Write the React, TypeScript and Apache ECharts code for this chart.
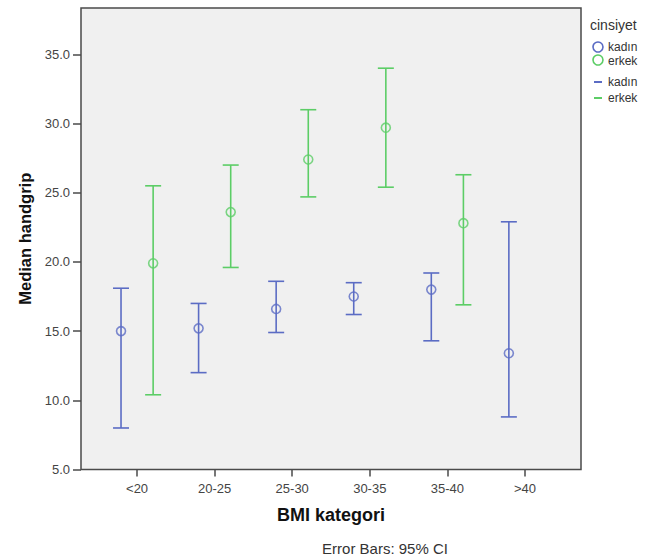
import React, { useEffect, useRef } from "react";
import * as echarts from "echarts";

const categories = ["<20", "20-25", "25-30", "30-35", "35-40", ">40"];
const yTicks = [5, 10, 15, 20, 25, 30, 35];

const kadinMean = [15.0, 15.2, 16.6, 17.5, 18.0, 13.4];
const kadinLow = [8.0, 12.0, 14.9, 16.2, 14.3, 8.8];
const kadinHigh = [18.1, 17.0, 18.6, 18.5, 19.2, 22.9];

const erkekMean: (number | null)[] = [19.9, 23.6, 27.4, 29.7, 22.8, null];
const erkekLow: (number | null)[] = [10.4, 19.6, 24.7, 25.4, 16.9, null];
const erkekHigh: (number | null)[] = [25.5, 27.0, 31.0, 34.0, 26.3, null];

const BLUE = "#5b6cc4";
const GREEN = "#5ccd66";
const FONT = 'Arial, "Liberation Sans", sans-serif';
const DODGE = 0.207;

function points(means: (number | null)[], off: number) {
  const out: number[][] = [];
  means.forEach((m, i) => {
    if (m != null) out.push([i + off, m]);
  });
  return out;
}
function bars(lo: (number | null)[], hi: (number | null)[], off: number) {
  const out: number[][] = [];
  lo.forEach((l, i) => {
    const h = hi[i];
    if (l != null && h != null) out.push([i + off, l, h]);
  });
  return out;
}

function makeRender(color: string) {
  return (params: any, api: any) => {
    const x = api.value(0);
    const lo = api.coord([x, api.value(1)]);
    const hi = api.coord([x, api.value(2)]);
    const half = 8;
    const style = { stroke: color, lineWidth: 1.6 };
    return {
      type: "group",
      children: [
        { type: "line", shape: { x1: lo[0], y1: lo[1], x2: hi[0], y2: hi[1] }, style },
        { type: "line", shape: { x1: hi[0] - half, y1: hi[1], x2: hi[0] + half, y2: hi[1] }, style },
        { type: "line", shape: { x1: lo[0] - half, y1: lo[1], x2: lo[0] + half, y2: lo[1] }, style },
      ],
    };
  };
}

function legendText(text: string, x: number, y: number, size: number) {
  return {
    type: "text",
    style: { text, x, y, verticalAlign: "middle", align: "left", font: `${size}px ${FONT}`, fill: "#333" },
  };
}

export default function App() {
  const ref = useRef<HTMLDivElement>(null);
  useEffect(() => {
    if (!ref.current) return;
    const chart = echarts.init(ref.current, undefined, { renderer: "svg" });
    const axisColor = "#4a4a4a";
    chart.setOption({
      animation: false,
      backgroundColor: "#ffffff",
      grid: {
        left: 81,
        right: 78,
        top: 8,
        bottom: 88.5,
        show: true,
        backgroundColor: "#f0f0f0",
        borderColor: axisColor,
        borderWidth: 1.5,
      },
      xAxis: {
        type: "value",
        min: -0.723,
        max: 5.723,
        name: "BMI kategori",
        nameLocation: "middle",
        nameGap: 36.5,
        nameTextStyle: { fontFamily: FONT, fontSize: 18, fontWeight: "bold", color: "#111" },
        axisLine: { show: false, onZero: false },
        splitLine: { show: false },
        axisTick: {
          show: true,
          customValues: [0, 1, 2, 3, 4, 5],
          length: 7,
          lineStyle: { color: axisColor, width: 1.5 },
        },
        axisLabel: {
          customValues: [0, 1, 2, 3, 4, 5],
          formatter: (v: number) => categories[Math.round(v)] ?? "",
          fontFamily: FONT,
          fontSize: 13,
          color: "#444",
          margin: 12,
        },
      },
      yAxis: {
        type: "value",
        min: 5,
        max: 38.35,
        name: "Median handgrip",
        nameLocation: "middle",
        nameGap: 46,
        nameTextStyle: { fontFamily: FONT, fontSize: 16.5, fontWeight: "bold", color: "#111" },
        axisLine: { show: false, onZero: false },
        splitLine: { show: false },
        axisTick: {
          show: true,
          customValues: yTicks,
          length: 8,
          lineStyle: { color: axisColor, width: 1.5 },
        },
        axisLabel: {
          customValues: yTicks,
          formatter: (v: number) => v.toFixed(1),
          fontFamily: FONT,
          fontSize: 13,
          color: "#444",
          margin: 11,
        },
      },
      series: [
        {
          type: "custom",
          name: "kadın",
          renderItem: makeRender(BLUE),
          data: bars(kadinLow, kadinHigh, -DODGE),
          z: 2,
        },
        {
          type: "custom",
          name: "erkek",
          renderItem: makeRender(GREEN),
          data: bars(erkekLow, erkekHigh, DODGE),
          z: 2,
        },
        {
          type: "scatter",
          name: "kadın",
          symbol: "circle",
          symbolSize: 9,
          itemStyle: { color: "rgba(0,0,0,0)", borderColor: BLUE, borderWidth: 1.6 },
          data: points(kadinMean, -DODGE),
          z: 3,
        },
        {
          type: "scatter",
          name: "erkek",
          symbol: "circle",
          symbolSize: 9,
          itemStyle: { color: "rgba(0,0,0,0)", borderColor: GREEN, borderWidth: 1.6 },
          data: points(erkekMean, DODGE),
          z: 3,
        },
      ],
      graphic: [
        legendText("cinsiyet", 590, 25, 14),
        { type: "circle", shape: { cx: 598, cy: 47, r: 5 }, style: { fill: "none", stroke: BLUE, lineWidth: 1.6 } },
        legendText("kadın", 608, 47, 12),
        { type: "circle", shape: { cx: 598, cy: 60, r: 5 }, style: { fill: "none", stroke: GREEN, lineWidth: 1.6 } },
        legendText("erkek", 608, 61, 12),
        { type: "line", shape: { x1: 594, y1: 82, x2: 602, y2: 82 }, style: { stroke: BLUE, lineWidth: 2 } },
        legendText("kadın", 608, 82, 12),
        { type: "line", shape: { x1: 594, y1: 98, x2: 602, y2: 98 }, style: { stroke: GREEN, lineWidth: 2 } },
        legendText("erkek", 608, 98, 12),
        {
          type: "text",
          style: {
            text: "Error Bars: 95% CI",
            x: 385,
            y: 548,
            align: "center",
            verticalAlign: "middle",
            font: `15px ${FONT}`,
            fill: "#333",
          },
        },
      ],
    });
    return () => chart.dispose();
  }, []);
  return (
    <div
      ref={ref}
      style={{ position: "fixed", left: 0, top: 0, width: 659, height: 558 }}
    />
  );
}
